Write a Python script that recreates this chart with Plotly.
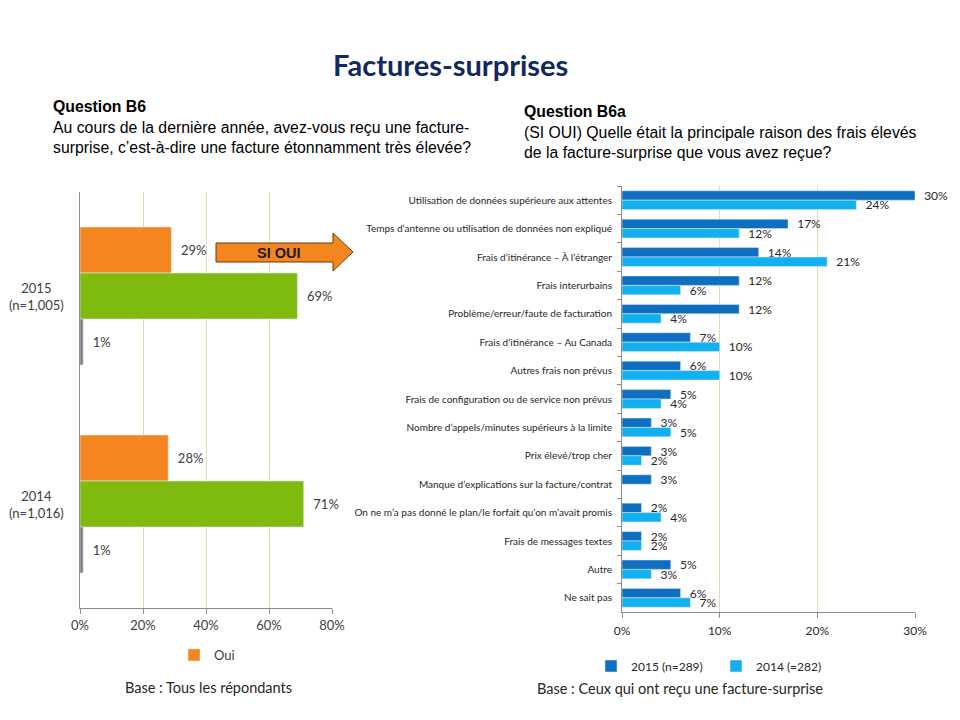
import plotly.graph_objects as go

# ---------------- data ----------------
left_categories = ["2015 (n=1,005)", "2014 (n=1,016)"]
left_oui = [29, 28]
left_non = [69, 71]
left_nsp = [1, 1]
left_ticks = [0, 20, 40, 60, 80]

right_categories = [
    "Utilisation de données supérieure aux attentes",
    "Temps d’antenne ou utilisation de données non expliqué",
    "Frais d’itinérance – À l’étranger",
    "Frais interurbains",
    "Problème/erreur/faute de facturation",
    "Frais d’itinérance – Au Canada",
    "Autres frais non prévus",
    "Frais de configuration ou de service non prévus",
    "Nombre d’appels/minutes supérieurs à la limite",
    "Prix élevé/trop cher",
    "Manque d’explications sur la facture/contrat",
    "On ne m’a pas donné le plan/le forfait qu’on m’avait promis",
    "Frais de messages textes",
    "Autre",
    "Ne sait pas",
]
right_2015 = [30, 17, 14, 12, 12, 7, 6, 5, 3, 3, 3, 2, 2, 5, 6]
right_2014 = [24, 12, 21, 6, 4, 10, 10, 4, 5, 2, None, 4, 2, 3, 7]
right_ticks = [0, 10, 20, 30]

# ---------------- style ----------------
W, H = 960, 720
OFF = 8  # page body margin


def px(x):
    return (x - OFF) / W


def py(y):
    return 1 - (y - OFF) / H


PAD = "\u00a0\u00a0"


def pct(vals):
    return [f"{PAD}{v}%" if v is not None else "" for v in vals]


ORANGE = "#F5861F"
GREEN = "#7FBA0F"
GREY = "#7F7F7F"
DARK_BLUE = "#0E6FC1"
LIGHT_BLUE = "#12B0F0"
GRID = "#D3E5B8"
AXIS = "#8C8C8C"
TXT = "#404040"
FONT = "Lato, Carlito, 'Open Sans', sans-serif"
ARIAL = "'Liberation Sans', Arial, sans-serif"

fig = go.Figure()

# left chart
common_left = dict(orientation="h", xaxis="x", yaxis="y",
                   textposition="outside", cliponaxis=False, constraintext="none",
                   textfont=dict(family=FONT, size=13, color=TXT), hoverinfo="skip")
fig.add_trace(go.Bar(name="Oui", x=left_oui, y=left_categories, text=pct(left_oui),
                     marker_color=ORANGE, legend="legend", **common_left))
fig.add_trace(go.Bar(name="Non", x=left_non, y=left_categories, text=pct(left_non),
                     marker_color=GREEN, showlegend=False, **common_left))
fig.add_trace(go.Bar(name="NSP", x=left_nsp, y=left_categories, text=pct(left_nsp),
                     marker_color=GREY, showlegend=False, **common_left))

# right chart
common_right = dict(orientation="h", xaxis="x2", yaxis="y2",
                    textposition="outside", cliponaxis=False, constraintext="none",
                    textfont=dict(family=FONT, size=12, color="#262626"), legend="legend2",
                    hoverinfo="skip")
fig.add_trace(go.Bar(name="2015 (n=289)", x=right_2015, y=right_categories,
                     text=pct(right_2015), marker_color=DARK_BLUE, **common_right))
fig.add_trace(go.Bar(name="2014 (=282)", x=right_2014, y=right_categories,
                     text=pct(right_2014), marker_color=LIGHT_BLUE, **common_right))

annotations = []
# left category labels (centered two-line)
for cat in left_categories:
    annotations.append(dict(xref="paper", yref="y", x=px(36), y=cat,
                            text=cat.replace(" ", "<br>"),
                            showarrow=False, xanchor="center", yanchor="middle",
                            align="center", font=dict(family=FONT, size=13, color=TXT)))

annotations += [
    dict(xref="paper", yref="paper", x=px(450), y=py(65), text="<b>Factures-surprises</b>",
         showarrow=False, xanchor="center", yanchor="middle",
         font=dict(family=FONT, size=29, color="#12295F")),
    dict(xref="paper", yref="paper", x=px(51), y=py(96), xanchor="left", yanchor="top",
         showarrow=False, align="left",
         text="<b>Question B6</b><br>Au cours de la dernière année, avez-vous reçu une facture-<br>surprise, c’est-à-dire une facture étonnamment très élevée?",
         font=dict(family=ARIAL, size=15.8, color="#000000")),
    dict(xref="paper", yref="paper", x=px(522), y=py(101), xanchor="left", yanchor="top",
         showarrow=False, align="left",
         text="<b>Question B6a</b><br>(SI OUI) Quelle était la principale raison des frais élevés<br>de la facture-surprise que vous avez reçue?",
         font=dict(family=ARIAL, size=15.8, color="#000000")),
    dict(xref="paper", yref="paper", x=px(208), y=py(687), text="Base : Tous les répondants",
         showarrow=False, xanchor="center", yanchor="middle",
         font=dict(family=FONT, size=14.5, color="#262626")),
    dict(xref="paper", yref="paper", x=px(680), y=py(688), text="Base : Ceux qui ont reçu une facture-surprise",
         showarrow=False, xanchor="center", yanchor="middle",
         font=dict(family=FONT, size=14.5, color="#262626")),
    dict(xref="paper", yref="paper", x=px(279), y=py(253), text="<b>SI OUI</b>",
         showarrow=False, xanchor="center", yanchor="middle",
         font=dict(family=ARIAL, size=14.5, color="#1a1a1a")),
]

arrow_pts = [(216, 243), (333, 243), (333, 233), (353, 252), (333, 271), (333, 262), (216, 262)]
path = "M " + " L ".join(f"{px(x):.5f},{py(y):.5f}" for x, y in arrow_pts) + " Z"
shapes = [dict(type="path", xref="paper", yref="paper", path=path,
               fillcolor=ORANGE, line=dict(color="#6b3b0a", width=1))]

fig.update_layout(
    width=W, height=H, margin=dict(l=0, r=0, t=0, b=0, autoexpand=False),
    paper_bgcolor="white", plot_bgcolor="white",
    barmode="group",
    font=dict(family=FONT, color=TXT),
    hovermode=False,
    xaxis=dict(domain=[px(80), px(332)], range=[0, 80], tickvals=left_ticks,
               ticktext=[f"{t}%" for t in left_ticks], showgrid=True, gridcolor=GRID,
               showline=True, linecolor=AXIS, ticks="outside", ticklen=5, tickcolor=AXIS,
               zeroline=False, tickfont=dict(family=FONT, size=13, color=TXT), anchor="y",
               automargin=False),
    yaxis=dict(type="category", domain=[py(608), py(192)], autorange="reversed",
               showticklabels=False, showline=True, linecolor=AXIS, ticks="",
               showgrid=False, anchor="x", automargin=False),
    xaxis2=dict(domain=[px(622), px(915)], range=[0, 30], tickvals=right_ticks,
                ticktext=[f"{t}%" for t in right_ticks], showgrid=True, gridcolor=GRID,
                showline=True, linecolor=AXIS, ticks="outside", ticklen=5, tickcolor=AXIS,
                zeroline=False, tickfont=dict(family=FONT, size=12, color="#262626"), anchor="y2",
                automargin=False, ticklabelstandoff=3),
    yaxis2=dict(type="category", domain=[py(612), py(186)], autorange="reversed", showline=True,
                linecolor=AXIS, ticks="outside", tickson="boundaries", ticklen=4,
                tickcolor=AXIS, showgrid=False, anchor="x2", ticklabelstandoff=7,
                tickfont=dict(family=FONT, size=10, color="#262626"), automargin=False),
    bargap=0.337,
    legend=dict(x=px(174), y=py(655), xanchor="left", yanchor="middle",
                font=dict(family=FONT, size=13, color=TXT), bgcolor="rgba(0,0,0,0)",
                itemwidth=30, tracegroupgap=0),
    legend2=dict(orientation="h", x=px(591), y=py(666), xanchor="left", yanchor="middle",
                 font=dict(family=FONT, size=12, color="#262626"), bgcolor="rgba(0,0,0,0)",
                 itemwidth=30, entrywidth=80, entrywidthmode="pixels"),
    annotations=annotations,
    shapes=shapes,
)

fig.write_html("out.html")
